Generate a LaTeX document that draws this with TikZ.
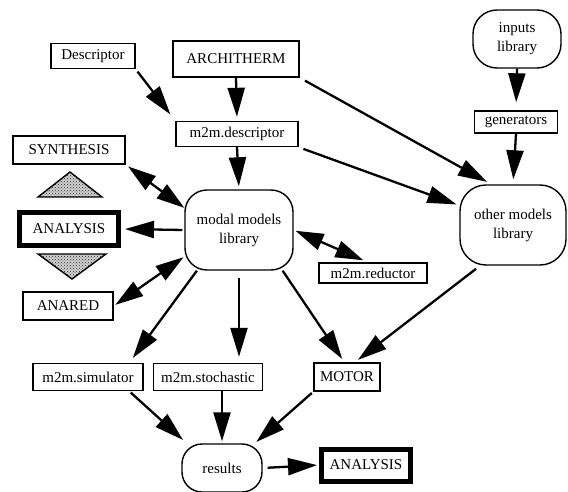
\documentclass[tikz,border=0pt]{standalone}
\usepackage{fontspec}
\setmainfont{Liberation Serif}
\usetikzlibrary{arrows.meta, patterns}

\begin{document}
\begin{tikzpicture}[x=1pt, y=-1pt,
  font=\fontsize{15}{19}\selectfont,
  box/.style={draw, line width=1.4pt, inner sep=0pt},
  heavybox/.style={draw, line width=5pt, inner sep=0pt},
  lib/.style={draw, line width=1.4pt, align=center, inner sep=0pt},
  arr/.style={-{Triangle[length=29pt,width=17pt]}, line width=2.3pt},
  darr/.style={{Triangle[length=28pt,width=17pt]}-{Triangle[length=28pt,width=17pt]}, line width=2.3pt},
  tri/.style={draw, line width=1.4pt, preaction={fill=gray!35}, pattern=crosshatch dots, pattern color=black!85}]
\useasboundingbox (0,0) rectangle (568,492);

\node[box, minimum width=84, minimum height=25] (desc) at (93,56) {Descriptor};
\node[box, minimum width=126, minimum height=36] (archi) at (236,59) {ARCHITHERM};
\node[box, minimum width=122, minimum height=25] (mdesc) at (237,134) {m2m.descriptor};
\node[box, minimum width=112, minimum height=28] (synth) at (69,150) {SYNTHESIS};
\node[heavybox, minimum width=99, minimum height=32] (anal) at (69,229) {ANALYSIS};
\node[box, minimum width=90, minimum height=28] (anared) at (68,306) {ANARED};
\node[lib, rounded corners=22pt, minimum width=108, minimum height=80] (modal) at (239,230) {modal models\\library};
\node[lib, rounded corners=24pt, minimum width=88, minimum height=58] (inputs) at (517,39) {inputs\\library};
\node[box, minimum width=83, minimum height=22] (gen) at (516,122) {generators};
\node[lib, rounded corners=26pt, minimum width=106, minimum height=80] (other) at (513,225) {other models\\library};
\node[box, minimum width=108, minimum height=20] (red) at (373,273) {m2m.reductor};
\node[box, minimum width=110, minimum height=27] (sim) at (88,377) {m2m.simulator};
\node[box, minimum width=109, minimum height=27] (stoch) at (208,377) {m2m.stochastic};
\node[box, minimum width=66, minimum height=28] (motor) at (347,377) {MOTOR};
\node[lib, rounded corners=20pt, minimum width=80, minimum height=48] (results) at (222,468) {results};
\node[heavybox, minimum width=89, minimum height=32] (anal2) at (366,465) {ANALYSIS};

% dotted triangles round the ANALYSIS box
\draw[tri] (38,197) -- (70,172) -- (102,197) -- cycle;
\draw[tri] (38,254) -- (106,254) -- (72,279) -- cycle;

\draw[arr, shorten <=3pt, shorten >=8pt] (desc.south east) -- (mdesc.north west);
\draw[arr, shorten >=4pt] (archi.south) -- (mdesc.north);
\draw[arr, shorten >=3pt] (mdesc.south) -- (modal.north);
\draw[arr, shorten <=6pt, shorten >=5pt] (archi.south east) -- (other.118);
\draw[arr, shorten <=5pt, shorten >=3pt] (mdesc.south east) -- (other.160);
\draw[arr, shorten >=8pt] (inputs.south) -- (gen.north);
\draw[arr, shorten >=5pt] (gen.south) -- (other.north);
\draw[darr, shorten <=3pt] (synth.south east) -- (modal.158);
\draw[arr, shorten <=2pt, shorten >=4pt] (modal.west) -- (anal.east);
\draw[darr, shorten <=2pt, shorten >=1pt] (anared.east) -- (modal.206);
\draw[darr, shorten <=2pt, shorten >=5pt] (modal.east) -- (red.115);
\draw[arr, shorten >=6pt] (modal.224) -- (sim.19);
\draw[arr, shorten <=7pt, shorten >=6pt] (modal.south) -- (modal.south |- stoch.north);
\draw[arr, shorten >=4pt] (modal.-43) -- (motor.100);
\draw[arr, shorten <=5pt, shorten >=4pt] (other.231) -- (motor.62);
\draw[arr, shorten <=2pt, shorten >=5pt] (sim.-19) -- (results.145);
\draw[arr, shorten >=2pt] (results.north |- stoch.south) -- (results.north);
\draw[arr, shorten <=2pt, shorten >=2pt] (motor.south west) -- (results.37);
\draw[arr, shorten <=5pt, shorten >=2pt] (results.east) -- (anal2.west);

\end{tikzpicture}
\end{document}
